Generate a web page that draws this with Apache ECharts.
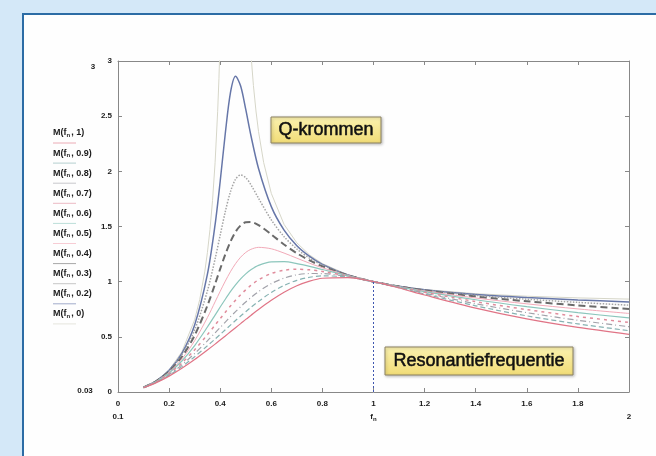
<!DOCTYPE html>
<html>
<head>
<meta charset="utf-8">
<script src="https://cdn.jsdelivr.net/npm/echarts@6/dist/echarts.min.js"></script>
<style>
  html, body { margin: 0; padding: 0; background: #d4e8f8; }
  #chart { width: 656px; height: 456px; }
</style>
</head>
<body>
<div id="chart"></div>
<script>
// genormaliseerde frequentie (f / fn)
var fn = [0.1, 0.15, 0.2, 0.25, 0.3, 0.35, 0.38, 0.4, 0.42, 0.44, 0.46, 0.48, 0.5, 0.52, 0.55,
          0.6, 0.65, 0.7, 0.75, 0.8, 0.9, 1, 1.1, 1.2, 1.4, 1.6, 1.8, 2];

var mQ02 = [0.042, 0.101, 0.196, 0.351, 0.608, 1.068, 1.517, 1.910, 2.345, 2.711, 2.861, 2.773, 2.561, 2.327, 2.026,
            1.680, 1.467, 1.326, 1.229, 1.157, 1.061, 1, 0.958, 0.927, 0.884, 0.856, 0.834, 0.816];
var mQ03 = [0.042, 0.099, 0.192, 0.337, 0.562, 0.917, 1.206, 1.422, 1.635, 1.814, 1.928, 1.967, 1.943, 1.879, 1.756,
            1.560, 1.408, 1.296, 1.213, 1.150, 1.060, 1, 0.957, 0.924, 0.876, 0.841, 0.812, 0.787];
var mQ04 = [0.042, 0.098, 0.187, 0.319, 0.513, 0.784, 0.979, 1.116, 1.247, 1.362, 1.451, 1.510, 1.538, 1.541, 1.513,
            1.428, 1.337, 1.258, 1.192, 1.139, 1.058, 1, 0.956, 0.921, 0.865, 0.822, 0.785, 0.752];
var mQ05 = [0.041, 0.096, 0.180, 0.300, 0.465, 0.675, 0.817, 0.913, 1.005, 1.090, 1.163, 1.222, 1.265, 1.293, 1.311,
            1.298, 1.259, 1.213, 1.167, 1.126, 1.056, 1, 0.954, 0.916, 0.852, 0.799, 0.753, 0.712];
var mQ06 = [0.041, 0.094, 0.173, 0.281, 0.421, 0.589, 0.697, 0.770, 0.841, 0.909, 0.970, 1.025, 1.071, 1.108, 1.148,
            1.180, 1.181, 1.164, 1.139, 1.110, 1.053, 1, 0.953, 0.910, 0.836, 0.774, 0.719, 0.671];
var mQ07 = [0.040, 0.092, 0.166, 0.263, 0.382, 0.520, 0.607, 0.665, 0.723, 0.779, 0.832, 0.882, 0.926, 0.966, 1.017,
            1.074, 1.104, 1.113, 1.107, 1.093, 1.049, 1, 0.951, 0.904, 0.819, 0.747, 0.684, 0.631];
var mQ08 = [0.040, 0.090, 0.159, 0.246, 0.349, 0.464, 0.536, 0.585, 0.634, 0.682, 0.728, 0.773, 0.816, 0.856, 0.910,
            0.982, 1.032, 1.062, 1.074, 1.073, 1.046, 1, 0.948, 0.896, 0.800, 0.719, 0.650, 0.592];
var mQ09 = [0.039, 0.087, 0.151, 0.230, 0.320, 0.419, 0.480, 0.522, 0.564, 0.606, 0.648, 0.689, 0.728, 0.767, 0.821,
            0.902, 0.966, 1.012, 1.040, 1.053, 1.041, 1, 0.946, 0.888, 0.781, 0.690, 0.617, 0.556];
var mQ10 = [0.039, 0.085, 0.144, 0.215, 0.294, 0.381, 0.434, 0.471, 0.508, 0.546, 0.583, 0.620, 0.658, 0.694, 0.748,
            0.831, 0.904, 0.963, 1.005, 1.031, 1.037, 1, 0.943, 0.879, 0.760, 0.662, 0.585, 0.523];

// Q = 0 loopt buiten beeld (asymptoot rond 0.447)
var fnQ0 = [0.1, 0.15, 0.2, 0.25, 0.3, 0.32, 0.34, 0.35, 0.36, 0.37, 0.38, 0.39, 0.395, 0.4,
            0.52, 0.53, 0.54, 0.55, 0.57, 0.6, 0.65, 0.7, 0.75, 0.8, 0.9, 1, 1.1, 1.2, 1.4, 1.6, 1.8, 2];
var mQ0 = [0.042, 0.101, 0.2, 0.364, 0.655, 0.839, 1.096, 1.265, 1.473, 1.736, 2.078, 2.540, 2.839, 3.2,
           3.073, 2.778, 2.547, 2.361, 2.081, 1.8, 1.519, 1.352, 1.241, 1.164, 1.062, 1, 0.958, 0.929, 0.891, 0.868, 0.853, 0.842];

// resonantielijn
var resX = [1, 1];
var resY = [0, 1];

var legendQ = ['1', '0.9', '0.8', '0.7', '0.6', '0.5', '0.4', '0.3', '0.2', '0'];

function pairs(xs, ys) {
    var res = [];
    for (var i = 0; i < xs.length; i++) res.push([xs[i], ys[i]]);
    return res;
}

var curves = [
    { data: pairs(fnQ0, mQ0), color: '#d6d6c8', type: 'solid', width: 1, smooth: false },
    { data: pairs(fn, mQ02), color: '#6676a8', type: 'solid', width: 1.5 },
    { data: pairs(fn, mQ03), color: '#a4a4a4', type: 'dotted', width: 1.5 },
    { data: pairs(fn, mQ04), color: '#6a6a6a', type: [7, 4], width: 2 },
    { data: pairs(fn, mQ05), color: '#f2aab8', type: 'solid', width: 1 },
    { data: pairs(fn, mQ06), color: '#8cc6bc', type: 'solid', width: 1.2 },
    { data: pairs(fn, mQ07), color: '#e08c9c', type: [3, 4], width: 1.5 },
    { data: pairs(fn, mQ08), color: '#a2a2aa', type: [6, 3, 1, 3], width: 1.2 },
    { data: pairs(fn, mQ09), color: '#86b2b2', type: [5, 3], width: 1.2 },
    { data: pairs(fn, mQ10), color: '#e07486', type: 'solid', width: 1.2 }
];
// legendavolgorde: Q = 1 ... 0
var legendColors = ['#e07486', '#86b2b2', '#a2a2aa', '#e08c9c', '#8cc6bc', '#f2aab8', '#6a6a6a', '#a4a4a4', '#6676a8', '#d6d6c8'];

var series = curves.map(function (c) {
    return {
        type: 'line',
        data: c.data,
        showSymbol: false,
        symbol: 'none',
        smooth: c.smooth === false ? false : 0.3,
        clip: true,
        lineStyle: { color: c.color, type: c.type, width: c.width },
        z: 3
    };
});
series.push({
    type: 'line',
    data: pairs(resX, resY),
    showSymbol: false,
    symbol: 'none',
    lineStyle: { color: '#3f56b0', type: [2, 2], width: 1 },
    z: 4
});

var tickFont = { fontSize: 8, fontWeight: 'bold', color: '#1a1a1a', fontFamily: 'Liberation Sans' };

function fmtX(v) {
    var r = Math.round(v * 10) / 10;
    if (r === 0) return '0\n0.1';
    if (r === 1) return '1\n{f|f}{s|n}';
    if (r === 2) return '\n2';
    return String(r);
}

var yellowFill = new echarts.graphic.LinearGradient(0, 0, 0, 1, [
    { offset: 0, color: '#fbf2b0' },
    { offset: 1, color: '#f1dc76' }
]);

var boxText = { font: '18px Liberation Sans', fill: '#111', stroke: '#111', lineWidth: 0.5, align: 'center', verticalAlign: 'middle' };

var graphic = [
    {
        type: 'rect', z: -10,
        shape: { x: 23, y: 14, width: 700, height: 500 },
        style: { fill: '#fefefe', stroke: '#2c6ca5', lineWidth: 2 }
    },
    { type: 'text', x: 93, y: 67, style: { text: '3', font: 'bold 8px Liberation Sans', fill: '#1a1a1a', align: 'center', verticalAlign: 'middle' } },
    { type: 'text', x: 85, y: 391, style: { text: '0.03', font: 'bold 8px Liberation Sans', fill: '#1a1a1a', align: 'center', verticalAlign: 'middle' } },
    {
        type: 'rect', z: 10,
        shape: { x: 271, y: 117, width: 110, height: 26 },
        style: { fill: yellowFill, stroke: '#8c8262', lineWidth: 1, shadowBlur: 3, shadowOffsetX: 1, shadowOffsetY: 1, shadowColor: 'rgba(0,0,0,0.25)' }
    },
    { type: 'text', z: 11, x: 326, y: 130, style: Object.assign({ text: 'Q-krommen' }, boxText) },
    {
        type: 'rect', z: 10,
        shape: { x: 385, y: 347, width: 188, height: 28 },
        style: { fill: yellowFill, stroke: '#8c8262', lineWidth: 1, shadowBlur: 3, shadowOffsetX: 1, shadowOffsetY: 1, shadowColor: 'rgba(0,0,0,0.25)' }
    },
    { type: 'text', z: 11, x: 479, y: 361, style: Object.assign({ text: 'Resonantiefrequentie' }, boxText) }
];

// legendablok links: M(fn, Q) met lijnvoorbeeld eronder
legendQ.forEach(function (q, i) {
    var y = 133 + i * 20.1;
    graphic.push({
        type: 'text', x: 53, y: y,
        style: {
            text: '{b|M(f}{s|n}{b|, ' + q + ')}',
            align: 'left', verticalAlign: 'middle',
            rich: {
                b: { font: 'bold 9px Liberation Sans', fill: '#1a1a1a' },
                s: { font: 'bold 6px Liberation Sans', fill: '#1a1a1a', padding: [4, 1, 0, 0] }
            }
        }
    });
    graphic.push({
        type: 'line',
        shape: { x1: 53, y1: y + 10, x2: 76, y2: y + 10 },
        style: { stroke: legendColors[i], lineWidth: 1, opacity: 0.6 }
    });
});

var myChart = echarts.init(document.getElementById('chart'));

var option = {
    backgroundColor: '#d4e8f8',
    animation: false,
    grid: { left: 118, right: 27, top: 61, bottom: 64 },
    xAxis: [
        {
            type: 'value', min: 0, max: 2, interval: 0.2,
            axisLine: { show: true, onZero: false, lineStyle: { color: '#888', width: 1 } },
            axisTick: { show: true, inside: true, length: 4, lineStyle: { color: '#888' } },
            splitLine: { show: false },
            axisLabel: Object.assign({}, tickFont, {
                margin: 5, lineHeight: 13, formatter: fmtX,
                rich: {
                    f: { fontSize: 8, fontWeight: 'bold', color: '#1a1a1a', lineHeight: 13 },
                    s: { fontSize: 6, fontWeight: 'bold', color: '#1a1a1a', lineHeight: 13, padding: [5, 0, 0, 0] }
                }
            })
        },
        {
            type: 'value', position: 'top', min: 0, max: 2, interval: 0.2,
            axisLine: { show: true, onZero: false, lineStyle: { color: '#888', width: 1 } },
            axisTick: { show: true, inside: true, length: 4, lineStyle: { color: '#888' } },
            axisLabel: { show: false },
            splitLine: { show: false }
        }
    ],
    yAxis: [
        {
            type: 'value', min: 0, max: 3, interval: 0.5,
            axisLine: { show: true, onZero: false, lineStyle: { color: '#888', width: 1 } },
            axisTick: { show: true, inside: true, length: 4, lineStyle: { color: '#888' } },
            splitLine: { show: false },
            axisLabel: Object.assign({}, tickFont, { margin: 6, formatter: function (v) { return String(v); } })
        },
        {
            type: 'value', position: 'right', min: 0, max: 3, interval: 0.5,
            axisLine: { show: true, onZero: false, lineStyle: { color: '#888', width: 1 } },
            axisTick: { show: true, inside: true, length: 4, lineStyle: { color: '#888' } },
            axisLabel: { show: false },
            splitLine: { show: false }
        }
    ],
    graphic: graphic,
    series: series
};

myChart.setOption(option);
window.addEventListener('resize', function () {
    myChart.resize();
});
</script>
</body>
</html>
